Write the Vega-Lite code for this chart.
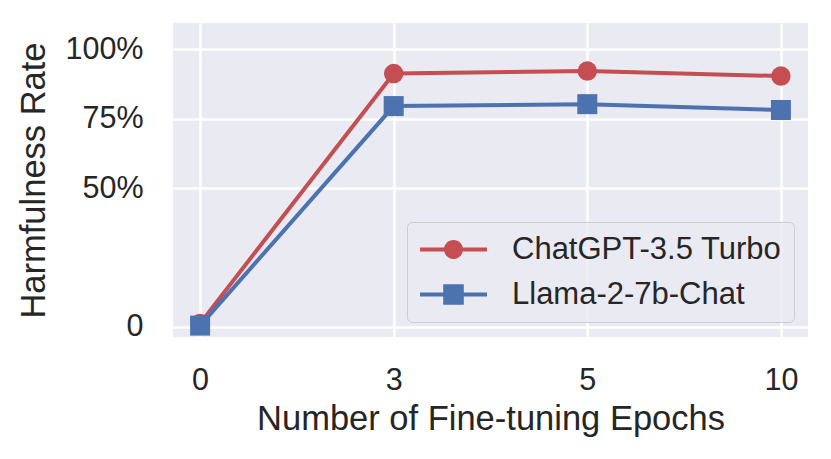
{
  "$schema": "https://vega.github.io/schema/vega-lite/v6.json",
  "autosize": {"type": "none"},
  "width": 635,
  "height": 314,
  "padding": {"left": 173, "top": 23, "right": 23, "bottom": 122},
  "background": "white",
  "config": {
    "font": "Liberation Sans",
    "view": {"fill": "#EAEAF2", "stroke": null},
    "axis": {
      "labelFont": "Liberation Sans",
      "titleFont": "Liberation Sans",
      "labelFontSize": 30.5,
      "titleFontSize": 34.5,
      "titleFontWeight": "normal",
      "labelColor": "#262626",
      "titleColor": "#262626",
      "ticks": false,
      "tickSize": 0,
      "domain": false,
      "grid": true,
      "gridColor": "white",
      "gridWidth": 2.5
    }
  },
  "data": {
    "values": [
      {"epoch": 0, "model": "ChatGPT-3.5 Turbo", "rate": 0.013},
      {"epoch": 3, "model": "ChatGPT-3.5 Turbo", "rate": 0.912},
      {"epoch": 5, "model": "ChatGPT-3.5 Turbo", "rate": 0.921},
      {"epoch": 10, "model": "ChatGPT-3.5 Turbo", "rate": 0.903},
      {"epoch": 0, "model": "Llama-2-7b-Chat", "rate": 0.005},
      {"epoch": 3, "model": "Llama-2-7b-Chat", "rate": 0.795},
      {"epoch": 5, "model": "Llama-2-7b-Chat", "rate": 0.802},
      {"epoch": 10, "model": "Llama-2-7b-Chat", "rate": 0.781}
    ]
  },
  "encoding": {
    "x": {
      "field": "epoch",
      "type": "ordinal",
      "sort": [0, 3, 5, 10],
      "scale": {"type": "point", "padding": 0.14},
      "axis": {"title": "Number of Fine-tuning Epochs", "labelAngle": 0, "labelPadding": 28, "titlePadding": 7}
    },
    "y": {
      "field": "rate",
      "type": "quantitative",
      "scale": {"domain": [-0.036, 1.094], "nice": false, "zero": false},
      "axis": {
        "title": "Harmfulness Rate",
        "values": [0, 0.5, 0.75, 1],
        "labelExpr": "datum.value == 0 ? '0' : format(datum.value, '.0%')",
        "labelPadding": 30,
        "titlePadding": 13
      }
    }
  },
  "layer": [
    {
      "mark": {"type": "point", "filled": true, "opacity": 0, "size": 400},
      "encoding": {
        "color": {
          "field": "model",
          "type": "nominal",
          "scale": {"domain": ["ChatGPT-3.5 Turbo", "Llama-2-7b-Chat"], "range": ["#C44E52", "#4C72B0"]},
          "legend": {
            "title": null,
            "orient": "none",
            "legendX": 234,
            "legendY": 199,
            "labelFont": "Liberation Sans",
            "labelFontSize": 31,
            "labelColor": "#262626",
            "labelLimit": 500,
            "symbolSize": 400,
            "symbolOffset": 19,
            "labelOffset": 43,
            "padding": 12,
            "rowPadding": 13,
            "fillColor": "rgba(234,234,242,0.8)",
            "strokeColor": "#CCCCCC",
            "cornerRadius": 5,
            "symbolStrokeWidth": 0,
            "symbolOpacity": 1
          }
        },
        "shape": {
          "field": "model",
          "type": "nominal",
          "scale": {
            "domain": ["ChatGPT-3.5 Turbo", "Llama-2-7b-Chat"],
            "range": [
              "M-3.35,-0.19L3.35,-0.19L3.35,0.19L-3.35,0.19Z M-0.95,0A0.95,0.95 0 1,1 0.95,0A0.95,0.95 0 1,1 -0.95,0Z",
              "M-3.35,-0.19L3.35,-0.19L3.35,0.19L-3.35,0.19Z M-1.03,-1.03L1.03,-1.03L1.03,1.03L-1.03,1.03Z"
            ]
          },
          "legend": {
            "title": null,
            "orient": "none",
            "legendX": 234,
            "legendY": 199,
            "labelFont": "Liberation Sans",
            "labelFontSize": 31,
            "labelColor": "#262626",
            "labelLimit": 500,
            "symbolSize": 400,
            "symbolOffset": 19,
            "labelOffset": 43,
            "padding": 12,
            "rowPadding": 13,
            "fillColor": "rgba(234,234,242,0.8)",
            "strokeColor": "#CCCCCC",
            "cornerRadius": 5,
            "symbolStrokeWidth": 0,
            "symbolOpacity": 1
          }
        }
      }
    },
    {
      "transform": [{"filter": "datum.model == 'ChatGPT-3.5 Turbo'"}],
      "mark": {"type": "line", "strokeWidth": 4, "color": "#C44E52"}
    },
    {
      "transform": [{"filter": "datum.model == 'ChatGPT-3.5 Turbo'"}],
      "mark": {"type": "point", "shape": "circle", "filled": true, "opacity": 1, "size": 380, "color": "#C44E52"}
    },
    {
      "transform": [{"filter": "datum.model == 'Llama-2-7b-Chat'"}],
      "mark": {"type": "line", "strokeWidth": 4, "color": "#4C72B0"}
    },
    {
      "transform": [{"filter": "datum.model == 'Llama-2-7b-Chat'"}],
      "mark": {"type": "point", "shape": "square", "filled": true, "opacity": 1, "size": 400, "color": "#4C72B0"}
    }
  ]
}
